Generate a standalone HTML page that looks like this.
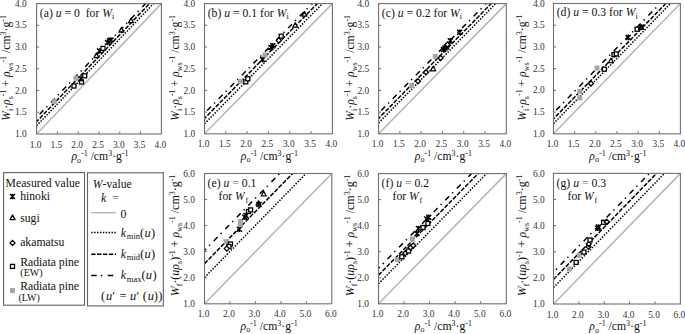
<!DOCTYPE html>
<html><head><meta charset="utf-8"><style>
html,body{margin:0;padding:0;background:#fff;width:685px;height:334px;overflow:hidden}
svg{display:block}
.t{font-family:"Liberation Serif",serif;font-size:11.7px;fill:#111}
.tk{font-family:"Liberation Serif",serif;font-size:9.4px;fill:#333}
</style></head><body>
<svg width="685" height="334" viewBox="0 0 685 334">
<rect width="685" height="334" fill="#fff"/>
<clipPath id="cpa"><rect x="36.6" y="3.6" width="124.80000000000001" height="130.4"/></clipPath>
<line x1="36.6" y1="134.0" x2="161.4" y2="3.6" stroke="#b8b8b8" stroke-width="1.6"/>
<g clip-path="url(#cpa)">
<line x1="36.60" y1="125.74" x2="153.50" y2="3.60" stroke="#000" stroke-width="1.5" stroke-dasharray="1.45 1.45" stroke-dashoffset="0"/>
<line x1="36.60" y1="121.61" x2="149.54" y2="3.60" stroke="#000" stroke-width="1.5" stroke-dasharray="4.4 1.5" stroke-dashoffset="1.4"/>
<line x1="36.60" y1="117.48" x2="145.59" y2="3.60" stroke="#000" stroke-width="1.5" stroke-dasharray="5.5 4.3 1.4 5.3" stroke-dashoffset="12.15"/>
</g>
<rect x="51.70" y="99.00" width="5.00" height="5.00" fill="#a6a6a6"/>
<rect x="73.80" y="75.70" width="5.00" height="5.00" fill="#a6a6a6"/>
<rect x="72.00" y="84.00" width="4.00" height="4.00" stroke="#000" stroke-width="1.3" fill="#fff"/>
<rect x="79.50" y="80.00" width="4.00" height="4.00" stroke="#000" stroke-width="1.3" fill="#fff"/>
<path d="M78.50 76.30L83.50 81.30M78.50 81.30L83.50 76.30M81.00 76.00L81.00 81.60" stroke="#000" stroke-width="1.45" fill="none"/>
<rect x="82.70" y="73.80" width="4.00" height="4.00" stroke="#000" stroke-width="1.3" fill="#fff"/>
<path d="M96.40 53.10L98.90 57.60L93.90 57.60Z" stroke="#000" stroke-width="1.3" stroke-linejoin="round" fill="#fff"/>
<path d="M96.90 48.50L101.90 53.50M96.90 53.50L101.90 48.50M99.40 48.20L99.40 53.80" stroke="#000" stroke-width="1.45" fill="none"/>
<rect x="101.00" y="46.40" width="4.00" height="4.00" stroke="#000" stroke-width="1.3" fill="#fff"/>
<path d="M105.00 40.00L110.00 45.00M105.00 45.00L110.00 40.00M107.50 39.70L107.50 45.30" stroke="#000" stroke-width="1.45" fill="none"/>
<path d="M107.00 38.30L112.00 43.30M107.00 43.30L112.00 38.30M109.50 38.00L109.50 43.60" stroke="#000" stroke-width="1.45" fill="none"/>
<path d="M108.50 37.50L113.50 42.50M108.50 42.50L113.50 37.50M111.00 37.20L111.00 42.80" stroke="#000" stroke-width="1.45" fill="none"/>
<path d="M121.40 27.50L123.90 32.00L118.90 32.00Z" stroke="#000" stroke-width="1.3" stroke-linejoin="round" fill="#fff"/>
<path d="M131.00 18.20L133.50 22.70L128.50 22.70Z" stroke="#000" stroke-width="1.3" stroke-linejoin="round" fill="#fff"/>
<rect x="36.6" y="3.6" width="124.80" height="130.40" fill="none" stroke="#707070" stroke-width="1.1"/>
<text x="35.60" y="147.50" text-anchor="middle" class="tk">1.0</text>
<text x="26.80" y="137.10" text-anchor="end" class="tk">1.0</text>
<line x1="57.40" y1="134.0" x2="57.40" y2="131.4" stroke="#707070" stroke-width="1"/>
<line x1="36.6" y1="112.27" x2="39.2" y2="112.27" stroke="#707070" stroke-width="1"/>
<text x="56.40" y="147.50" text-anchor="middle" class="tk">1.5</text>
<text x="26.80" y="115.37" text-anchor="end" class="tk">1.5</text>
<line x1="78.20" y1="134.0" x2="78.20" y2="131.4" stroke="#707070" stroke-width="1"/>
<line x1="36.6" y1="90.53" x2="39.2" y2="90.53" stroke="#707070" stroke-width="1"/>
<text x="77.20" y="147.50" text-anchor="middle" class="tk">2.0</text>
<text x="26.80" y="93.63" text-anchor="end" class="tk">2.0</text>
<line x1="99.00" y1="134.0" x2="99.00" y2="131.4" stroke="#707070" stroke-width="1"/>
<line x1="36.6" y1="68.80" x2="39.2" y2="68.80" stroke="#707070" stroke-width="1"/>
<text x="98.00" y="147.50" text-anchor="middle" class="tk">2.5</text>
<text x="26.80" y="71.90" text-anchor="end" class="tk">2.5</text>
<line x1="119.80" y1="134.0" x2="119.80" y2="131.4" stroke="#707070" stroke-width="1"/>
<line x1="36.6" y1="47.07" x2="39.2" y2="47.07" stroke="#707070" stroke-width="1"/>
<text x="118.80" y="147.50" text-anchor="middle" class="tk">3.0</text>
<text x="26.80" y="50.17" text-anchor="end" class="tk">3.0</text>
<line x1="140.60" y1="134.0" x2="140.60" y2="131.4" stroke="#707070" stroke-width="1"/>
<line x1="36.6" y1="25.33" x2="39.2" y2="25.33" stroke="#707070" stroke-width="1"/>
<text x="139.60" y="147.50" text-anchor="middle" class="tk">3.5</text>
<text x="26.80" y="28.43" text-anchor="end" class="tk">3.5</text>
<text x="160.40" y="147.50" text-anchor="middle" class="tk">4.0</text>
<text x="26.80" y="6.70" text-anchor="end" class="tk">4.0</text>
<text x="39.80" y="16.50" class="t" xml:space="preserve">(a) <tspan font-style="italic">u</tspan> = 0  for <tspan font-style="italic">W</tspan><tspan font-size="8" dy="2.5">i</tspan></text>
<text x="100.00" y="160.00" text-anchor="middle" class="t" xml:space="preserve"><tspan font-style="italic">ρ</tspan><tspan font-size="8" dy="2.5">o</tspan><tspan font-size="8" dy="-6.5">-1</tspan><tspan dy="4"> /cm</tspan><tspan font-size="8" dy="-4">3</tspan><tspan dy="4">·g</tspan><tspan font-size="8" dy="-4">-1</tspan></text>
<text transform="translate(10.40,67.90) rotate(-90)" x="0" y="0" text-anchor="middle" class="t" xml:space="preserve"><tspan font-style="italic">W</tspan><tspan font-size="8" dy="2.5">i</tspan><tspan dy="-2.5">·</tspan><tspan font-style="italic">ρ</tspan><tspan font-size="8" dy="2.5">s</tspan><tspan font-size="8" dy="-6.5">-1</tspan><tspan dy="4"> + </tspan><tspan font-style="italic">ρ</tspan><tspan font-size="8" dy="2.5">ws</tspan><tspan font-size="8" dy="-6.5">-1</tspan><tspan dy="4"> /cm</tspan><tspan font-size="8" dy="-4">3</tspan><tspan dy="4">·g</tspan><tspan font-size="8" dy="-4">-1</tspan></text>
<clipPath id="cpb"><rect x="204.5" y="3.6" width="127.89999999999998" height="130.20000000000002"/></clipPath>
<line x1="204.5" y1="133.8" x2="332.4" y2="3.6" stroke="#b8b8b8" stroke-width="1.6"/>
<g clip-path="url(#cpb)">
<line x1="204.50" y1="123.73" x2="322.51" y2="3.60" stroke="#000" stroke-width="1.5" stroke-dasharray="1.45 1.45" stroke-dashoffset="0"/>
<line x1="204.50" y1="118.44" x2="317.31" y2="3.60" stroke="#000" stroke-width="1.5" stroke-dasharray="4.4 1.5" stroke-dashoffset="1.7"/>
<line x1="204.50" y1="113.23" x2="312.19" y2="3.60" stroke="#000" stroke-width="1.5" stroke-dasharray="5.5 4.3 1.4 5.3" stroke-dashoffset="12.65"/>
</g>
<rect x="237.90" y="78.80" width="5.00" height="5.00" fill="#a6a6a6"/>
<rect x="243.80" y="79.80" width="4.00" height="4.00" stroke="#000" stroke-width="1.3" fill="#fff"/>
<rect x="245.80" y="76.80" width="4.00" height="4.00" stroke="#000" stroke-width="1.3" fill="#fff"/>
<path d="M260.00 57.10L265.00 62.10M260.00 62.10L265.00 57.10M262.50 56.80L262.50 62.40" stroke="#000" stroke-width="1.45" fill="none"/>
<rect x="262.50" y="52.50" width="5.00" height="5.00" fill="#a6a6a6"/>
<path d="M268.50 45.00L273.50 50.00M268.50 50.00L273.50 45.00M271.00 44.70L271.00 50.30" stroke="#000" stroke-width="1.45" fill="none"/>
<path d="M270.30 43.20L275.30 48.20M270.30 48.20L275.30 43.20M272.80 42.90L272.80 48.50" stroke="#000" stroke-width="1.45" fill="none"/>
<path d="M278.80 37.90L281.30 40.40L278.80 42.90L276.30 40.40Z" stroke="#000" stroke-width="1.3" fill="#fff"/>
<rect x="279.20" y="34.20" width="4.00" height="4.00" stroke="#000" stroke-width="1.3" fill="#fff"/>
<path d="M295.20 22.70L297.70 27.20L292.70 27.20Z" stroke="#000" stroke-width="1.3" stroke-linejoin="round" fill="#fff"/>
<path d="M304.40 11.60L306.90 16.10L301.90 16.10Z" stroke="#000" stroke-width="1.3" stroke-linejoin="round" fill="#fff"/>
<rect x="204.5" y="3.6" width="127.90" height="130.20" fill="none" stroke="#707070" stroke-width="1.1"/>
<text x="203.50" y="147.30" text-anchor="middle" class="tk">1.0</text>
<text x="195.30" y="136.90" text-anchor="end" class="tk">1.0</text>
<line x1="225.82" y1="133.8" x2="225.82" y2="131.20000000000002" stroke="#707070" stroke-width="1"/>
<line x1="204.5" y1="112.10" x2="207.1" y2="112.10" stroke="#707070" stroke-width="1"/>
<text x="224.82" y="147.30" text-anchor="middle" class="tk">1.5</text>
<text x="195.30" y="115.20" text-anchor="end" class="tk">1.5</text>
<line x1="247.13" y1="133.8" x2="247.13" y2="131.20000000000002" stroke="#707070" stroke-width="1"/>
<line x1="204.5" y1="90.40" x2="207.1" y2="90.40" stroke="#707070" stroke-width="1"/>
<text x="246.13" y="147.30" text-anchor="middle" class="tk">2.0</text>
<text x="195.30" y="93.50" text-anchor="end" class="tk">2.0</text>
<line x1="268.45" y1="133.8" x2="268.45" y2="131.20000000000002" stroke="#707070" stroke-width="1"/>
<line x1="204.5" y1="68.70" x2="207.1" y2="68.70" stroke="#707070" stroke-width="1"/>
<text x="267.45" y="147.30" text-anchor="middle" class="tk">2.5</text>
<text x="195.30" y="71.80" text-anchor="end" class="tk">2.5</text>
<line x1="289.77" y1="133.8" x2="289.77" y2="131.20000000000002" stroke="#707070" stroke-width="1"/>
<line x1="204.5" y1="47.00" x2="207.1" y2="47.00" stroke="#707070" stroke-width="1"/>
<text x="288.77" y="147.30" text-anchor="middle" class="tk">3.0</text>
<text x="195.30" y="50.10" text-anchor="end" class="tk">3.0</text>
<line x1="311.08" y1="133.8" x2="311.08" y2="131.20000000000002" stroke="#707070" stroke-width="1"/>
<line x1="204.5" y1="25.30" x2="207.1" y2="25.30" stroke="#707070" stroke-width="1"/>
<text x="310.08" y="147.30" text-anchor="middle" class="tk">3.5</text>
<text x="195.30" y="28.40" text-anchor="end" class="tk">3.5</text>
<text x="331.40" y="147.30" text-anchor="middle" class="tk">4.0</text>
<text x="195.30" y="6.70" text-anchor="end" class="tk">4.0</text>
<text x="207.70" y="16.50" class="t" xml:space="preserve">(b) <tspan font-style="italic">u</tspan> = 0.1 for <tspan font-style="italic">W</tspan><tspan font-size="8" dy="2.5">i</tspan></text>
<text x="269.45" y="159.80" text-anchor="middle" class="t" xml:space="preserve"><tspan font-style="italic">ρ</tspan><tspan font-size="8" dy="2.5">o</tspan><tspan font-size="8" dy="-6.5">-1</tspan><tspan dy="4"> /cm</tspan><tspan font-size="8" dy="-4">3</tspan><tspan dy="4">·g</tspan><tspan font-size="8" dy="-4">-1</tspan></text>
<text transform="translate(179.10,67.80) rotate(-90)" x="0" y="0" text-anchor="middle" class="t" xml:space="preserve"><tspan font-style="italic">W</tspan><tspan font-size="8" dy="2.5">i</tspan><tspan dy="-2.5">·</tspan><tspan font-style="italic">ρ</tspan><tspan font-size="8" dy="2.5">s</tspan><tspan font-size="8" dy="-6.5">-1</tspan><tspan dy="4"> + </tspan><tspan font-style="italic">ρ</tspan><tspan font-size="8" dy="2.5">ws</tspan><tspan font-size="8" dy="-6.5">-1</tspan><tspan dy="4"> /cm</tspan><tspan font-size="8" dy="-4">3</tspan><tspan dy="4">·g</tspan><tspan font-size="8" dy="-4">-1</tspan></text>
<clipPath id="cpc"><rect x="378.6" y="3.6" width="127.69999999999999" height="130.20000000000002"/></clipPath>
<line x1="378.6" y1="133.8" x2="506.3" y2="3.6" stroke="#b8b8b8" stroke-width="1.6"/>
<g clip-path="url(#cpc)">
<line x1="378.60" y1="122.95" x2="495.66" y2="3.60" stroke="#000" stroke-width="1.5" stroke-dasharray="1.45 1.45" stroke-dashoffset="0"/>
<line x1="378.60" y1="118.39" x2="491.19" y2="3.60" stroke="#000" stroke-width="1.5" stroke-dasharray="4.4 1.5" stroke-dashoffset="1.9"/>
<line x1="378.60" y1="113.19" x2="486.08" y2="3.60" stroke="#000" stroke-width="1.5" stroke-dasharray="5.5 4.3 1.4 5.3" stroke-dashoffset="12.75"/>
</g>
<rect x="409.20" y="83.30" width="5.00" height="5.00" fill="#a6a6a6"/>
<path d="M418.00 78.80L420.50 81.30L418.00 83.80L415.50 81.30Z" stroke="#000" stroke-width="1.3" fill="#fff"/>
<path d="M426.00 69.70L428.50 72.20L426.00 74.70L423.50 72.20Z" stroke="#000" stroke-width="1.3" fill="#fff"/>
<path d="M433.20 66.30L435.70 70.80L430.70 70.80Z" stroke="#000" stroke-width="1.3" stroke-linejoin="round" fill="#fff"/>
<rect x="432.70" y="53.90" width="5.00" height="5.00" fill="#a6a6a6"/>
<path d="M440.60 55.50L443.10 58.00L440.60 60.50L438.10 58.00Z" stroke="#000" stroke-width="1.3" fill="#fff"/>
<path d="M441.00 47.00L446.00 52.00M441.00 52.00L446.00 47.00M443.50 46.70L443.50 52.30" stroke="#000" stroke-width="1.45" fill="none"/>
<path d="M442.50 45.50L447.50 50.50M442.50 50.50L447.50 45.50M445.00 45.20L445.00 50.80" stroke="#000" stroke-width="1.45" fill="none"/>
<path d="M444.00 44.50L449.00 49.50M444.00 49.50L449.00 44.50M446.50 44.20L446.50 49.80" stroke="#000" stroke-width="1.45" fill="none"/>
<path d="M447.50 42.00L450.00 44.50L447.50 47.00L445.00 44.50Z" stroke="#000" stroke-width="1.3" fill="#fff"/>
<path d="M447.80 38.30L452.80 43.30M447.80 43.30L452.80 38.30M450.30 38.00L450.30 43.60" stroke="#000" stroke-width="1.45" fill="none"/>
<path d="M457.20 29.70L462.20 34.70M457.20 34.70L462.20 29.70M459.70 29.40L459.70 35.00" stroke="#000" stroke-width="1.45" fill="none"/>
<rect x="378.6" y="3.6" width="127.70" height="130.20" fill="none" stroke="#707070" stroke-width="1.1"/>
<text x="377.60" y="147.30" text-anchor="middle" class="tk">1.0</text>
<text x="369.30" y="136.90" text-anchor="end" class="tk">1.0</text>
<line x1="399.88" y1="133.8" x2="399.88" y2="131.20000000000002" stroke="#707070" stroke-width="1"/>
<line x1="378.6" y1="112.10" x2="381.20000000000005" y2="112.10" stroke="#707070" stroke-width="1"/>
<text x="398.88" y="147.30" text-anchor="middle" class="tk">1.5</text>
<text x="369.30" y="115.20" text-anchor="end" class="tk">1.5</text>
<line x1="421.17" y1="133.8" x2="421.17" y2="131.20000000000002" stroke="#707070" stroke-width="1"/>
<line x1="378.6" y1="90.40" x2="381.20000000000005" y2="90.40" stroke="#707070" stroke-width="1"/>
<text x="420.17" y="147.30" text-anchor="middle" class="tk">2.0</text>
<text x="369.30" y="93.50" text-anchor="end" class="tk">2.0</text>
<line x1="442.45" y1="133.8" x2="442.45" y2="131.20000000000002" stroke="#707070" stroke-width="1"/>
<line x1="378.6" y1="68.70" x2="381.20000000000005" y2="68.70" stroke="#707070" stroke-width="1"/>
<text x="441.45" y="147.30" text-anchor="middle" class="tk">2.5</text>
<text x="369.30" y="71.80" text-anchor="end" class="tk">2.5</text>
<line x1="463.73" y1="133.8" x2="463.73" y2="131.20000000000002" stroke="#707070" stroke-width="1"/>
<line x1="378.6" y1="47.00" x2="381.20000000000005" y2="47.00" stroke="#707070" stroke-width="1"/>
<text x="462.73" y="147.30" text-anchor="middle" class="tk">3.0</text>
<text x="369.30" y="50.10" text-anchor="end" class="tk">3.0</text>
<line x1="485.02" y1="133.8" x2="485.02" y2="131.20000000000002" stroke="#707070" stroke-width="1"/>
<line x1="378.6" y1="25.30" x2="381.20000000000005" y2="25.30" stroke="#707070" stroke-width="1"/>
<text x="484.02" y="147.30" text-anchor="middle" class="tk">3.5</text>
<text x="369.30" y="28.40" text-anchor="end" class="tk">3.5</text>
<text x="505.30" y="147.30" text-anchor="middle" class="tk">4.0</text>
<text x="369.30" y="6.70" text-anchor="end" class="tk">4.0</text>
<text x="381.80" y="16.50" class="t" xml:space="preserve">(c) <tspan font-style="italic">u</tspan> = 0.2 for <tspan font-style="italic">W</tspan><tspan font-size="8" dy="2.5">i</tspan></text>
<text x="443.45" y="159.80" text-anchor="middle" class="t" xml:space="preserve"><tspan font-style="italic">ρ</tspan><tspan font-size="8" dy="2.5">o</tspan><tspan font-size="8" dy="-6.5">-1</tspan><tspan dy="4"> /cm</tspan><tspan font-size="8" dy="-4">3</tspan><tspan dy="4">·g</tspan><tspan font-size="8" dy="-4">-1</tspan></text>
<text transform="translate(354.30,67.80) rotate(-90)" x="0" y="0" text-anchor="middle" class="t" xml:space="preserve"><tspan font-style="italic">W</tspan><tspan font-size="8" dy="2.5">i</tspan><tspan dy="-2.5">·</tspan><tspan font-style="italic">ρ</tspan><tspan font-size="8" dy="2.5">s</tspan><tspan font-size="8" dy="-6.5">-1</tspan><tspan dy="4"> + </tspan><tspan font-style="italic">ρ</tspan><tspan font-size="8" dy="2.5">ws</tspan><tspan font-size="8" dy="-6.5">-1</tspan><tspan dy="4"> /cm</tspan><tspan font-size="8" dy="-4">3</tspan><tspan dy="4">·g</tspan><tspan font-size="8" dy="-4">-1</tspan></text>
<clipPath id="cpd"><rect x="553.5" y="3.5" width="126.89999999999998" height="130.3"/></clipPath>
<line x1="553.5" y1="133.8" x2="680.4" y2="3.5" stroke="#b8b8b8" stroke-width="1.6"/>
<g clip-path="url(#cpd)">
<line x1="553.50" y1="123.64" x2="670.50" y2="3.50" stroke="#000" stroke-width="1.5" stroke-dasharray="1.45 1.45" stroke-dashoffset="0"/>
<line x1="553.50" y1="118.82" x2="665.81" y2="3.50" stroke="#000" stroke-width="1.5" stroke-dasharray="4.4 1.5" stroke-dashoffset="2.5"/>
<line x1="553.50" y1="112.95" x2="660.10" y2="3.50" stroke="#000" stroke-width="1.5" stroke-dasharray="5.5 4.3 1.4 5.3" stroke-dashoffset="12.55"/>
</g>
<rect x="577.20" y="88.90" width="5.00" height="5.00" fill="#a6a6a6"/>
<rect x="577.30" y="95.30" width="5.00" height="5.00" fill="#a6a6a6"/>
<path d="M591.00 81.00L593.50 83.50L591.00 86.00L588.50 83.50Z" stroke="#000" stroke-width="1.3" fill="#fff"/>
<rect x="594.50" y="65.50" width="5.00" height="5.00" fill="#a6a6a6"/>
<rect x="602.30" y="67.20" width="4.00" height="4.00" stroke="#000" stroke-width="1.3" fill="#fff"/>
<path d="M611.00 58.20L613.50 62.70L608.50 62.70Z" stroke="#000" stroke-width="1.3" stroke-linejoin="round" fill="#fff"/>
<rect x="612.00" y="52.60" width="4.00" height="4.00" stroke="#000" stroke-width="1.3" fill="#fff"/>
<rect x="614.20" y="51.90" width="4.00" height="4.00" stroke="#000" stroke-width="1.3" fill="#fff"/>
<path d="M625.70 34.90L630.70 39.90M625.70 39.90L630.70 34.90M628.20 34.60L628.20 40.20" stroke="#000" stroke-width="1.45" fill="none"/>
<rect x="635.10" y="27.20" width="4.00" height="4.00" stroke="#000" stroke-width="1.3" fill="#fff"/>
<path d="M640.90 24.80L643.40 29.30L638.40 29.30Z" stroke="#000" stroke-width="1.3" stroke-linejoin="round" fill="#fff"/>
<path d="M638.70 24.50L643.70 29.50M638.70 29.50L643.70 24.50M641.20 24.20L641.20 29.80" stroke="#000" stroke-width="1.45" fill="none"/>
<rect x="553.5" y="3.5" width="126.90" height="130.30" fill="none" stroke="#707070" stroke-width="1.1"/>
<text x="552.50" y="147.30" text-anchor="middle" class="tk">1.0</text>
<text x="544.70" y="136.90" text-anchor="end" class="tk">1.0</text>
<line x1="574.65" y1="133.8" x2="574.65" y2="131.20000000000002" stroke="#707070" stroke-width="1"/>
<line x1="553.5" y1="112.08" x2="556.1" y2="112.08" stroke="#707070" stroke-width="1"/>
<text x="573.65" y="147.30" text-anchor="middle" class="tk">1.5</text>
<text x="544.70" y="115.18" text-anchor="end" class="tk">1.5</text>
<line x1="595.80" y1="133.8" x2="595.80" y2="131.20000000000002" stroke="#707070" stroke-width="1"/>
<line x1="553.5" y1="90.37" x2="556.1" y2="90.37" stroke="#707070" stroke-width="1"/>
<text x="594.80" y="147.30" text-anchor="middle" class="tk">2.0</text>
<text x="544.70" y="93.47" text-anchor="end" class="tk">2.0</text>
<line x1="616.95" y1="133.8" x2="616.95" y2="131.20000000000002" stroke="#707070" stroke-width="1"/>
<line x1="553.5" y1="68.65" x2="556.1" y2="68.65" stroke="#707070" stroke-width="1"/>
<text x="615.95" y="147.30" text-anchor="middle" class="tk">2.5</text>
<text x="544.70" y="71.75" text-anchor="end" class="tk">2.5</text>
<line x1="638.10" y1="133.8" x2="638.10" y2="131.20000000000002" stroke="#707070" stroke-width="1"/>
<line x1="553.5" y1="46.93" x2="556.1" y2="46.93" stroke="#707070" stroke-width="1"/>
<text x="637.10" y="147.30" text-anchor="middle" class="tk">3.0</text>
<text x="544.70" y="50.03" text-anchor="end" class="tk">3.0</text>
<line x1="659.25" y1="133.8" x2="659.25" y2="131.20000000000002" stroke="#707070" stroke-width="1"/>
<line x1="553.5" y1="25.22" x2="556.1" y2="25.22" stroke="#707070" stroke-width="1"/>
<text x="658.25" y="147.30" text-anchor="middle" class="tk">3.5</text>
<text x="544.70" y="28.32" text-anchor="end" class="tk">3.5</text>
<text x="679.40" y="147.30" text-anchor="middle" class="tk">4.0</text>
<text x="544.70" y="6.60" text-anchor="end" class="tk">4.0</text>
<text x="556.70" y="16.40" class="t" xml:space="preserve">(d) <tspan font-style="italic">u</tspan> = 0.3 for <tspan font-style="italic">W</tspan><tspan font-size="8" dy="2.5">i</tspan></text>
<text x="617.95" y="159.80" text-anchor="middle" class="t" xml:space="preserve"><tspan font-style="italic">ρ</tspan><tspan font-size="8" dy="2.5">o</tspan><tspan font-size="8" dy="-6.5">-1</tspan><tspan dy="4"> /cm</tspan><tspan font-size="8" dy="-4">3</tspan><tspan dy="4">·g</tspan><tspan font-size="8" dy="-4">-1</tspan></text>
<text transform="translate(526.30,67.75) rotate(-90)" x="0" y="0" text-anchor="middle" class="t" xml:space="preserve"><tspan font-style="italic">W</tspan><tspan font-size="8" dy="2.5">i</tspan><tspan dy="-2.5">·</tspan><tspan font-style="italic">ρ</tspan><tspan font-size="8" dy="2.5">s</tspan><tspan font-size="8" dy="-6.5">-1</tspan><tspan dy="4"> + </tspan><tspan font-style="italic">ρ</tspan><tspan font-size="8" dy="2.5">ws</tspan><tspan font-size="8" dy="-6.5">-1</tspan><tspan dy="4"> /cm</tspan><tspan font-size="8" dy="-4">3</tspan><tspan dy="4">·g</tspan><tspan font-size="8" dy="-4">-1</tspan></text>
<clipPath id="cpe"><rect x="204.5" y="173.5" width="127.30000000000001" height="130.3"/></clipPath>
<line x1="204.5" y1="303.8" x2="331.8" y2="173.5" stroke="#b8b8b8" stroke-width="1.6"/>
<g clip-path="url(#cpe)">
<line x1="204.50" y1="277.48" x2="306.09" y2="173.50" stroke="#000" stroke-width="1.5" stroke-dasharray="1.45 1.45" stroke-dashoffset="0"/>
<line x1="204.50" y1="263.67" x2="292.59" y2="173.50" stroke="#000" stroke-width="1.5" stroke-dasharray="4.4 1.5" stroke-dashoffset="0"/>
<line x1="204.50" y1="250.38" x2="279.61" y2="173.50" stroke="#000" stroke-width="1.5" stroke-dasharray="5.5 4.3 1.4 5.3" stroke-dashoffset="3.25"/>
</g>
<rect x="223.80" y="239.30" width="5.00" height="5.00" fill="#a6a6a6"/>
<rect x="228.50" y="242.00" width="4.00" height="4.00" stroke="#000" stroke-width="1.3" fill="#fff"/>
<rect x="226.90" y="244.50" width="4.00" height="4.00" stroke="#000" stroke-width="1.3" fill="#fff"/>
<path d="M226.80 246.10L229.30 248.60L226.80 251.10L224.30 248.60Z" stroke="#000" stroke-width="1.3" fill="#fff"/>
<path d="M236.90 226.70L241.90 231.70M236.90 231.70L241.90 226.70M239.40 226.40L239.40 232.00" stroke="#000" stroke-width="1.45" fill="none"/>
<rect x="237.80" y="222.30" width="5.00" height="5.00" fill="#a6a6a6"/>
<rect x="238.10" y="219.00" width="5.00" height="5.00" fill="#a6a6a6"/>
<path d="M242.30 214.80L247.30 219.80M242.30 219.80L247.30 214.80M244.80 214.50L244.80 220.10" stroke="#000" stroke-width="1.45" fill="none"/>
<path d="M243.50 213.00L248.50 218.00M243.50 218.00L248.50 213.00M246.00 212.70L246.00 218.30" stroke="#000" stroke-width="1.45" fill="none"/>
<rect x="246.50" y="209.50" width="4.00" height="4.00" stroke="#000" stroke-width="1.3" fill="#fff"/>
<rect x="248.60" y="207.90" width="4.00" height="4.00" stroke="#000" stroke-width="1.3" fill="#fff"/>
<path d="M258.50 200.70L261.00 205.20L256.00 205.20Z" stroke="#000" stroke-width="1.3" stroke-linejoin="round" fill="#fff"/>
<path d="M256.50 202.00L261.50 207.00M256.50 207.00L261.50 202.00M259.00 201.70L259.00 207.30" stroke="#000" stroke-width="1.45" fill="none"/>
<path d="M263.70 191.30L266.20 195.80L261.20 195.80Z" stroke="#000" stroke-width="1.3" stroke-linejoin="round" fill="#fff"/>
<rect x="204.5" y="173.5" width="127.30" height="130.30" fill="none" stroke="#707070" stroke-width="1.1"/>
<text x="203.50" y="317.30" text-anchor="middle" class="tk">1.0</text>
<text x="195.00" y="306.90" text-anchor="end" class="tk">1.0</text>
<line x1="229.96" y1="303.8" x2="229.96" y2="301.2" stroke="#707070" stroke-width="1"/>
<line x1="204.5" y1="277.74" x2="207.1" y2="277.74" stroke="#707070" stroke-width="1"/>
<text x="228.96" y="317.30" text-anchor="middle" class="tk">2.0</text>
<text x="195.00" y="280.84" text-anchor="end" class="tk">2.0</text>
<line x1="255.42" y1="303.8" x2="255.42" y2="301.2" stroke="#707070" stroke-width="1"/>
<line x1="204.5" y1="251.68" x2="207.1" y2="251.68" stroke="#707070" stroke-width="1"/>
<text x="254.42" y="317.30" text-anchor="middle" class="tk">3.0</text>
<text x="195.00" y="254.78" text-anchor="end" class="tk">3.0</text>
<line x1="280.88" y1="303.8" x2="280.88" y2="301.2" stroke="#707070" stroke-width="1"/>
<line x1="204.5" y1="225.62" x2="207.1" y2="225.62" stroke="#707070" stroke-width="1"/>
<text x="279.88" y="317.30" text-anchor="middle" class="tk">4.0</text>
<text x="195.00" y="228.72" text-anchor="end" class="tk">4.0</text>
<line x1="306.34" y1="303.8" x2="306.34" y2="301.2" stroke="#707070" stroke-width="1"/>
<line x1="204.5" y1="199.56" x2="207.1" y2="199.56" stroke="#707070" stroke-width="1"/>
<text x="305.34" y="317.30" text-anchor="middle" class="tk">5.0</text>
<text x="195.00" y="202.66" text-anchor="end" class="tk">5.0</text>
<text x="330.80" y="317.30" text-anchor="middle" class="tk">6.0</text>
<text x="195.00" y="176.60" text-anchor="end" class="tk">6.0</text>
<text x="207.60" y="186.60" class="t" xml:space="preserve">(e) <tspan font-style="italic">u</tspan> <tspan fill="#777">=</tspan> 0.1</text>
<text x="218.50" y="200.10" class="t" xml:space="preserve">for <tspan font-style="italic">W</tspan><tspan font-size="8" dx="0.8" dy="2.9">f</tspan></text>
<text x="269.15" y="329.80" text-anchor="middle" class="t" xml:space="preserve"><tspan font-style="italic">ρ</tspan><tspan font-size="8" dy="2.5">o</tspan><tspan font-size="8" dy="-6.5">-1</tspan><tspan dy="4"> /cm</tspan><tspan font-size="8" dy="-4">3</tspan><tspan dy="4">·g</tspan><tspan font-size="8" dy="-4">-1</tspan></text>
<text transform="translate(179.10,235.45) rotate(-90)" x="0" y="0" text-anchor="middle" class="t" style="font-size:11.95px" xml:space="preserve"><tspan font-style="italic">W</tspan><tspan font-size="8" dy="2.5">f</tspan><tspan dy="-2.5">·(</tspan><tspan font-style="italic">uρ</tspan><tspan font-size="8" dy="2.5">s</tspan><tspan dy="-2.5">)</tspan><tspan font-size="8" dy="-4">-1</tspan><tspan dy="4"> + </tspan><tspan font-style="italic">ρ</tspan><tspan font-size="8" dy="2.5">ws</tspan><tspan font-size="8" dy="-6.5">-1</tspan><tspan dy="4"> /cm</tspan><tspan font-size="8" dy="-4">3</tspan><tspan dy="4">·g</tspan><tspan font-size="8" dy="-4">-1</tspan></text>
<clipPath id="cpf"><rect x="378.5" y="173.6" width="127.80000000000001" height="130.20000000000002"/></clipPath>
<line x1="378.5" y1="303.8" x2="506.3" y2="173.6" stroke="#b8b8b8" stroke-width="1.6"/>
<g clip-path="url(#cpf)">
<line x1="378.50" y1="283.75" x2="486.62" y2="173.60" stroke="#000" stroke-width="1.5" stroke-dasharray="1.45 1.45" stroke-dashoffset="0"/>
<line x1="378.50" y1="275.16" x2="478.18" y2="173.60" stroke="#000" stroke-width="1.5" stroke-dasharray="4.4 1.5" stroke-dashoffset="0"/>
<line x1="378.50" y1="268.26" x2="471.41" y2="173.60" stroke="#000" stroke-width="1.5" stroke-dasharray="5.5 4.3 1.4 5.3" stroke-dashoffset="3.65"/>
</g>
<rect x="394.90" y="257.10" width="5.00" height="5.00" fill="#a6a6a6"/>
<rect x="399.80" y="254.80" width="4.00" height="4.00" stroke="#000" stroke-width="1.3" fill="#fff"/>
<path d="M405.30 250.70L407.80 253.20L405.30 255.70L402.80 253.20Z" stroke="#000" stroke-width="1.3" fill="#fff"/>
<rect x="406.50" y="249.00" width="4.00" height="4.00" stroke="#000" stroke-width="1.3" fill="#fff"/>
<path d="M410.50 245.00L413.00 247.50L410.50 250.00L408.00 247.50Z" stroke="#000" stroke-width="1.3" fill="#fff"/>
<path d="M413.20 243.00L415.70 245.50L413.20 248.00L410.70 245.50Z" stroke="#000" stroke-width="1.3" fill="#fff"/>
<rect x="410.00" y="236.50" width="5.00" height="5.00" fill="#a6a6a6"/>
<path d="M414.50 231.10L419.50 236.10M414.50 236.10L419.50 231.10M417.00 230.80L417.00 236.40" stroke="#000" stroke-width="1.45" fill="none"/>
<path d="M416.00 226.00L421.00 231.00M416.00 231.00L421.00 226.00M418.50 225.70L418.50 231.30" stroke="#000" stroke-width="1.45" fill="none"/>
<rect x="421.00" y="225.50" width="4.00" height="4.00" stroke="#000" stroke-width="1.3" fill="#fff"/>
<rect x="425.90" y="221.50" width="4.00" height="4.00" stroke="#000" stroke-width="1.3" fill="#fff"/>
<path d="M424.10 216.50L429.10 221.50M424.10 221.50L429.10 216.50M426.60 216.20L426.60 221.80" stroke="#000" stroke-width="1.45" fill="none"/>
<path d="M426.30 214.70L431.30 219.70M426.30 219.70L431.30 214.70M428.80 214.40L428.80 220.00" stroke="#000" stroke-width="1.45" fill="none"/>
<rect x="378.5" y="173.6" width="127.80" height="130.20" fill="none" stroke="#707070" stroke-width="1.1"/>
<text x="377.50" y="317.30" text-anchor="middle" class="tk">1.0</text>
<text x="369.00" y="306.90" text-anchor="end" class="tk">1.0</text>
<line x1="404.06" y1="303.8" x2="404.06" y2="301.2" stroke="#707070" stroke-width="1"/>
<line x1="378.5" y1="277.76" x2="381.1" y2="277.76" stroke="#707070" stroke-width="1"/>
<text x="403.06" y="317.30" text-anchor="middle" class="tk">2.0</text>
<text x="369.00" y="280.86" text-anchor="end" class="tk">2.0</text>
<line x1="429.62" y1="303.8" x2="429.62" y2="301.2" stroke="#707070" stroke-width="1"/>
<line x1="378.5" y1="251.72" x2="381.1" y2="251.72" stroke="#707070" stroke-width="1"/>
<text x="428.62" y="317.30" text-anchor="middle" class="tk">3.0</text>
<text x="369.00" y="254.82" text-anchor="end" class="tk">3.0</text>
<line x1="455.18" y1="303.8" x2="455.18" y2="301.2" stroke="#707070" stroke-width="1"/>
<line x1="378.5" y1="225.68" x2="381.1" y2="225.68" stroke="#707070" stroke-width="1"/>
<text x="454.18" y="317.30" text-anchor="middle" class="tk">4.0</text>
<text x="369.00" y="228.78" text-anchor="end" class="tk">4.0</text>
<line x1="480.74" y1="303.8" x2="480.74" y2="301.2" stroke="#707070" stroke-width="1"/>
<line x1="378.5" y1="199.64" x2="381.1" y2="199.64" stroke="#707070" stroke-width="1"/>
<text x="479.74" y="317.30" text-anchor="middle" class="tk">5.0</text>
<text x="369.00" y="202.74" text-anchor="end" class="tk">5.0</text>
<text x="505.30" y="317.30" text-anchor="middle" class="tk">6.0</text>
<text x="369.00" y="176.70" text-anchor="end" class="tk">6.0</text>
<text x="381.60" y="186.70" class="t" xml:space="preserve">(f) <tspan font-style="italic">u</tspan> <tspan fill="#777">=</tspan> 0.2</text>
<text x="392.50" y="200.20" class="t" xml:space="preserve">for <tspan font-style="italic">W</tspan><tspan font-size="8" dx="0.8" dy="2.9">f</tspan></text>
<text x="443.40" y="329.80" text-anchor="middle" class="t" xml:space="preserve"><tspan font-style="italic">ρ</tspan><tspan font-size="8" dy="2.5">o</tspan><tspan font-size="8" dy="-6.5">-1</tspan><tspan dy="4"> /cm</tspan><tspan font-size="8" dy="-4">3</tspan><tspan dy="4">·g</tspan><tspan font-size="8" dy="-4">-1</tspan></text>
<text transform="translate(354.10,235.50) rotate(-90)" x="0" y="0" text-anchor="middle" class="t" style="font-size:11.95px" xml:space="preserve"><tspan font-style="italic">W</tspan><tspan font-size="8" dy="2.5">f</tspan><tspan dy="-2.5">·(</tspan><tspan font-style="italic">uρ</tspan><tspan font-size="8" dy="2.5">s</tspan><tspan dy="-2.5">)</tspan><tspan font-size="8" dy="-4">-1</tspan><tspan dy="4"> + </tspan><tspan font-style="italic">ρ</tspan><tspan font-size="8" dy="2.5">ws</tspan><tspan font-size="8" dy="-6.5">-1</tspan><tspan dy="4"> /cm</tspan><tspan font-size="8" dy="-4">3</tspan><tspan dy="4">·g</tspan><tspan font-size="8" dy="-4">-1</tspan></text>
<clipPath id="cpg"><rect x="553.5" y="173.4" width="126.89999999999998" height="130.6"/></clipPath>
<line x1="553.5" y1="304.0" x2="680.4" y2="173.4" stroke="#b8b8b8" stroke-width="1.6"/>
<g clip-path="url(#cpg)">
<line x1="553.50" y1="287.54" x2="664.41" y2="173.40" stroke="#000" stroke-width="1.5" stroke-dasharray="1.45 1.45" stroke-dashoffset="0"/>
<line x1="553.50" y1="279.45" x2="656.54" y2="173.40" stroke="#000" stroke-width="1.5" stroke-dasharray="4.4 1.5" stroke-dashoffset="0"/>
<line x1="553.50" y1="272.13" x2="649.44" y2="173.40" stroke="#000" stroke-width="1.5" stroke-dasharray="5.5 4.3 1.4 5.3" stroke-dashoffset="6.3"/>
</g>
<rect x="566.90" y="266.40" width="5.00" height="5.00" fill="#a6a6a6"/>
<rect x="574.10" y="260.40" width="4.00" height="4.00" stroke="#000" stroke-width="1.3" fill="#fff"/>
<rect x="576.80" y="252.90" width="5.00" height="5.00" fill="#a6a6a6"/>
<rect x="581.90" y="250.10" width="4.00" height="4.00" stroke="#000" stroke-width="1.3" fill="#fff"/>
<path d="M588.40 244.20L590.90 246.70L588.40 249.20L585.90 246.70Z" stroke="#000" stroke-width="1.3" fill="#fff"/>
<path d="M588.80 241.50L591.30 244.00L588.80 246.50L586.30 244.00Z" stroke="#000" stroke-width="1.3" fill="#fff"/>
<rect x="588.00" y="238.00" width="4.00" height="4.00" stroke="#000" stroke-width="1.3" fill="#fff"/>
<path d="M595.30 225.80L600.30 230.80M595.30 230.80L600.30 225.80M597.80 225.50L597.80 231.10" stroke="#000" stroke-width="1.45" fill="none"/>
<path d="M596.00 224.50L601.00 229.50M596.00 229.50L601.00 224.50M598.50 224.20L598.50 229.80" stroke="#000" stroke-width="1.45" fill="none"/>
<rect x="601.60" y="220.30" width="4.00" height="4.00" stroke="#000" stroke-width="1.3" fill="#fff"/>
<path d="M606.70 219.30L609.20 221.80L606.70 224.30L604.20 221.80Z" stroke="#000" stroke-width="1.3" fill="#fff"/>
<rect x="553.5" y="173.4" width="126.90" height="130.60" fill="none" stroke="#707070" stroke-width="1.1"/>
<text x="552.50" y="317.50" text-anchor="middle" class="tk">1.0</text>
<text x="544.70" y="307.10" text-anchor="end" class="tk">1.0</text>
<line x1="578.88" y1="304.0" x2="578.88" y2="301.4" stroke="#707070" stroke-width="1"/>
<line x1="553.5" y1="277.88" x2="556.1" y2="277.88" stroke="#707070" stroke-width="1"/>
<text x="577.88" y="317.50" text-anchor="middle" class="tk">2.0</text>
<text x="544.70" y="280.98" text-anchor="end" class="tk">2.0</text>
<line x1="604.26" y1="304.0" x2="604.26" y2="301.4" stroke="#707070" stroke-width="1"/>
<line x1="553.5" y1="251.76" x2="556.1" y2="251.76" stroke="#707070" stroke-width="1"/>
<text x="603.26" y="317.50" text-anchor="middle" class="tk">3.0</text>
<text x="544.70" y="254.86" text-anchor="end" class="tk">3.0</text>
<line x1="629.64" y1="304.0" x2="629.64" y2="301.4" stroke="#707070" stroke-width="1"/>
<line x1="553.5" y1="225.64" x2="556.1" y2="225.64" stroke="#707070" stroke-width="1"/>
<text x="628.64" y="317.50" text-anchor="middle" class="tk">4.0</text>
<text x="544.70" y="228.74" text-anchor="end" class="tk">4.0</text>
<line x1="655.02" y1="304.0" x2="655.02" y2="301.4" stroke="#707070" stroke-width="1"/>
<line x1="553.5" y1="199.52" x2="556.1" y2="199.52" stroke="#707070" stroke-width="1"/>
<text x="654.02" y="317.50" text-anchor="middle" class="tk">5.0</text>
<text x="544.70" y="202.62" text-anchor="end" class="tk">5.0</text>
<text x="679.40" y="317.50" text-anchor="middle" class="tk">6.0</text>
<text x="544.70" y="176.50" text-anchor="end" class="tk">6.0</text>
<text x="556.60" y="186.50" class="t" xml:space="preserve">(g) <tspan font-style="italic">u</tspan> <tspan fill="#777">=</tspan> 0.3</text>
<text x="567.50" y="200.00" class="t" xml:space="preserve">for <tspan font-style="italic">W</tspan><tspan font-size="8" dx="0.8" dy="2.9">f</tspan></text>
<text x="617.95" y="330.00" text-anchor="middle" class="t" xml:space="preserve"><tspan font-style="italic">ρ</tspan><tspan font-size="8" dy="2.5">o</tspan><tspan font-size="8" dy="-6.5">-1</tspan><tspan dy="4"> /cm</tspan><tspan font-size="8" dy="-4">3</tspan><tspan dy="4">·g</tspan><tspan font-size="8" dy="-4">-1</tspan></text>
<text transform="translate(526.30,235.50) rotate(-90)" x="0" y="0" text-anchor="middle" class="t" style="font-size:11.95px" xml:space="preserve"><tspan font-style="italic">W</tspan><tspan font-size="8" dy="2.5">f</tspan><tspan dy="-2.5">·(</tspan><tspan font-style="italic">uρ</tspan><tspan font-size="8" dy="2.5">s</tspan><tspan dy="-2.5">)</tspan><tspan font-size="8" dy="-4">-1</tspan><tspan dy="4"> + </tspan><tspan font-style="italic">ρ</tspan><tspan font-size="8" dy="2.5">ws</tspan><tspan font-size="8" dy="-6.5">-1</tspan><tspan dy="4"> /cm</tspan><tspan font-size="8" dy="-4">3</tspan><tspan dy="4">·g</tspan><tspan font-size="8" dy="-4">-1</tspan></text>
<rect x="3.6" y="172.6" width="80.9" height="132.6" fill="none" stroke="#606060" stroke-width="1.1"/>
<rect x="87.5" y="172.8" width="75.8" height="133.1" fill="none" stroke="#606060" stroke-width="1.1"/>
<text x="5.6" y="186.7" class="t">Measured value</text>
<path d="M10.00 194.00L15.00 199.00M10.00 199.00L15.00 194.00M12.50 193.70L12.50 199.30" stroke="#000" stroke-width="1.45" fill="none"/>
<text x="20.2" y="200.2" class="t">hinoki</text>
<path d="M12.50 215.10L15.00 219.60L10.00 219.60Z" stroke="#000" stroke-width="1.3" stroke-linejoin="round" fill="#fff"/>
<text x="20.2" y="221.7" class="t">sugi</text>
<path d="M12.50 240.40L15.00 242.90L12.50 245.40L10.00 242.90Z" stroke="#000" stroke-width="1.3" fill="#fff"/>
<text x="20.2" y="245.7" class="t">akamatsu</text>
<rect x="10.50" y="264.40" width="4.00" height="4.00" stroke="#000" stroke-width="1.3" fill="#fff"/>
<text x="20.2" y="265.9" class="t">Radiata pine</text>
<text x="20.3" y="275.6" class="t" style="font-size:10px">(EW)</text>
<rect x="10.00" y="288.10" width="5.00" height="5.00" fill="#a6a6a6"/>
<text x="20.2" y="289.8" class="t">Radiata pine</text>
<text x="18.4" y="300.6" class="t" style="font-size:10px">(LW)</text>
<text x="92.8" y="187.6" class="t"><tspan font-style="italic">W</tspan>-value</text>
<text x="101.1" y="201.9" class="t" font-style="italic">k</text>
<text x="111.9" y="201.9" class="t" style="font-size:12.5px;fill:#666">=</text>
<line x1="91.2" y1="212.7" x2="115.7" y2="212.7" stroke="#b4b4b4" stroke-width="1.4"/>
<text x="120.6" y="217.6" class="t">0</text>
<line x1="91.2" y1="232.5" x2="116.2" y2="232.5" stroke="#000" stroke-width="1.5" stroke-dasharray="1.45 1.45"/>
<line x1="91.2" y1="254.2" x2="116.0" y2="254.2" stroke="#000" stroke-width="1.5" stroke-dasharray="4.4 1.5"/>
<line x1="91.2" y1="275.6" x2="116.2" y2="275.6" stroke="#000" stroke-width="1.5" stroke-dasharray="5.5 4.3 1.4 5.3"/>
<text y="236.9" class="t"><tspan x="120.85" font-style="italic">k</tspan><tspan x="126.8" dy="2.5" style="font-size:8.5px">min</tspan><tspan x="140.0" dy="-2.5" style="font-size:12.5px">(</tspan><tspan x="144.4" style="font-size:12.5px" font-style="italic">u</tspan><tspan x="151.0" style="font-size:12.5px">)</tspan></text>
<text y="257.9" class="t"><tspan x="120.85" font-style="italic">k</tspan><tspan x="126.8" dy="2.5" style="font-size:8.5px">mid</tspan><tspan x="140.3" dy="-2.5" style="font-size:12.5px">(</tspan><tspan x="144.4" style="font-size:12.5px" font-style="italic">u</tspan><tspan x="151.0" style="font-size:12.5px">)</tspan></text>
<text y="279.1" class="t"><tspan x="120.85" font-style="italic">k</tspan><tspan x="126.8" dy="2.5" style="font-size:8.5px">max</tspan><tspan x="141.6" dy="-2.5" style="font-size:12.5px">(</tspan><tspan x="145.7" style="font-size:12.5px" font-style="italic">u</tspan><tspan x="152.6" style="font-size:12.5px">)</tspan></text>
<text y="299.9" class="t" style="font-size:12.5px"><tspan x="101.0">(</tspan><tspan x="105.9" font-style="italic">u</tspan><tspan x="112.3">′</tspan><tspan x="119.6">=</tspan><tspan x="130.1" font-style="italic">u</tspan><tspan x="136.6">′</tspan><tspan x="142.7">(</tspan><tspan x="147.8" font-style="italic">u</tspan><tspan x="153.7">)</tspan><tspan x="158.2">)</tspan></text>
</svg>
</body></html>
